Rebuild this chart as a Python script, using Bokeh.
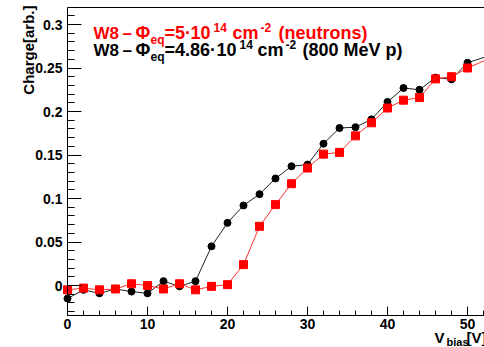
import math
from bokeh.plotting import figure
from bokeh.models import (Range1d, FixedTicker, NumeralTickFormatter, Label,
                          LinearAxis)
from bokeh.embed import file_html
from bokeh.resources import INLINE

# ---- data ----
voltage = [0, 2, 4, 6, 8, 10, 12, 14, 16, 18, 20, 22, 24, 26, 28, 30,
           32, 34, 36, 38, 40, 42, 44, 46, 48, 50, 54]
charge_protons = [-0.015, -0.005, -0.009, -0.004, -0.007, -0.009, 0.005, -0.001,
                  0.005, 0.045, 0.072, 0.092, 0.105, 0.123, 0.137, 0.139,
                  0.163, 0.181, 0.182, 0.191, 0.211, 0.227, 0.225, 0.239,
                  0.237, 0.256, 0.268]
charge_neutrons = [-0.005, -0.003, -0.005, -0.004, 0.002, 0.000, -0.004, 0.002,
                   -0.005, -0.001, 0.001, 0.024, 0.068, 0.093, 0.117, 0.135,
                   0.151, 0.153, 0.172, 0.187, 0.204, 0.213, 0.216, 0.2375,
                   0.240, 0.250, 0.266]
x_major = [0, 10, 20, 30, 40, 50]
x_minor = [0, 2, 4, 6, 8, 10, 12, 14, 16, 18, 20, 22, 24, 26, 28, 30, 32, 34,
           36, 38, 40, 42, 44, 46, 48, 50, 52]
y_major = [0, 0.05, 0.1, 0.15, 0.2, 0.25, 0.3]
y_minor = [-0.03, -0.02, -0.01, 0, 0.01, 0.02, 0.03, 0.04, 0.05, 0.06, 0.07,
           0.08, 0.09, 0.1, 0.11, 0.12, 0.13, 0.14, 0.15, 0.16, 0.17, 0.18,
           0.19, 0.2, 0.21, 0.22, 0.23, 0.24, 0.25, 0.26, 0.27, 0.28, 0.29,
           0.3, 0.31]

W, H = 484, 347
# pixel layout of the reference: axes box from x=67 to past the right edge,
# y from 7 (top) to 315 (bottom); 8 px per volt, 870 px per unit of charge
FL, FT, FB = 67, 7, 315
PX_X, PX_Y = 8.0, 870.0
PY_ZERO = 285.0


def dx(px):
    return (px - FL) / PX_X


def dy(py):
    return (PY_ZERO - py) / PX_Y


# the drawing area is the whole canvas; axes are pinned at the box edges
XA0, XA1 = dx(FL), dx(W)       # visible axis box in data units
YA0, YA1 = dy(FB), dy(FT)

FONT = "Liberation Sans"

p = figure(width=W, height=H, output_backend="svg", toolbar_location=None,
           x_range=Range1d(dx(0), dx(W)), y_range=Range1d(dy(H), dy(0)),
           x_axis_type=None, y_axis_type=None,
           min_border=0, min_border_left=0, min_border_right=0,
           min_border_top=0, min_border_bottom=0)
p.outline_line_color = None
p.grid.visible = False
p.background_fill_color = "white"
p.border_fill_color = "white"


def style_axis(ax, maj, mnr, tin, tmin, standoff):
    ax.ticker = FixedTicker(ticks=maj, minor_ticks=mnr)
    ax.major_tick_in = tin
    ax.major_tick_out = 0
    ax.minor_tick_in = tmin
    ax.minor_tick_out = 0
    ax.axis_line_color = "black"
    ax.major_tick_line_color = "black"
    ax.minor_tick_line_color = "black"
    ax.major_label_text_font = FONT
    ax.major_label_text_font_style = "bold"
    ax.major_label_text_font_size = "14px"
    ax.major_label_text_color = "black"
    ax.major_label_standoff = standoff


xaxis = LinearAxis(fixed_location=YA0, bounds=(XA0, XA1))
style_axis(xaxis, x_major, x_minor, 9, 5, 3)
p.add_layout(xaxis, "below")

yaxis = LinearAxis(fixed_location=XA0, bounds=(YA0, YA1))
style_axis(yaxis, y_major, y_minor, 14, 7, 5)
yaxis.formatter = NumeralTickFormatter(format="0.[00]")
p.add_layout(yaxis, "left")

topaxis = LinearAxis(fixed_location=YA1, bounds=(XA0, XA1),
                     ticker=FixedTicker(ticks=[], minor_ticks=[]),
                     major_tick_in=0, major_tick_out=0, minor_tick_in=0,
                     minor_tick_out=0, major_label_text_font_size="0px",
                     axis_line_color="black")
p.add_layout(topaxis, "above")

# series
p.line(voltage, charge_protons, line_color="#202020", line_width=1)
p.line(voltage, charge_neutrons, line_color="#ff3030", line_width=1)
p.scatter(voltage, charge_protons, marker="circle", size=7,
          fill_color="black", line_color="black")
p.scatter(voltage, charge_neutrons, marker="square", size=8,
          fill_color="#ff0000", line_color="#ff0000")


def lab(text, px, py, size, color="black", shift=True, **kw):
    # py is the wanted baseline; compensate the renderer's baseline offset
    if shift:
        py = py - 0.38 * size
    p.add_layout(Label(x=dx(px), y=dy(py), text=text, text_font=FONT,
                       text_font_style="bold", text_font_size=f"{size}px",
                       text_color=color, text_baseline="alphabetic", **kw))


RED = "#ff0000"
# red legend line
lab("W8", 93, 39, 17, RED)
lab("\u2013", 122, 39, 17, RED)
lab("\u03a6", 135, 39, 18, RED)
lab("eq", 150, 44, 12, RED)
lab("=5\u00b7", 164, 39, 18, RED)
lab("10", 190, 39, 18, RED)
lab("14", 213, 32, 12, RED)
lab("cm", 232, 39, 18, RED)
lab("-2", 260, 32, 12, RED)
lab("(neutrons)", 278, 39, 18, RED)
# black legend line
lab("W8", 93, 56, 17)
lab("\u2013", 122, 56, 17)
lab("\u03a6", 135, 56, 18)
lab("eq", 150, 61, 12)
lab("=4.86\u00b7", 164, 56, 18)
lab("10", 216, 56, 18)
lab("14", 239, 49, 12)
lab("cm", 257, 56, 18)
lab("-2", 285, 49, 12)
lab("(800 MeV p)", 302, 56, 18)

# axis titles
lab("Charge[arb.]", 28, 5, 15, shift=False, angle=math.pi / 2,
    text_align="right")
lab("V", 434, 343, 15)
lab("bias", 446, 346, 11)
lab("[V]", 466, 343, 15)

open("out.html", "w").write(file_html(p, INLINE))
